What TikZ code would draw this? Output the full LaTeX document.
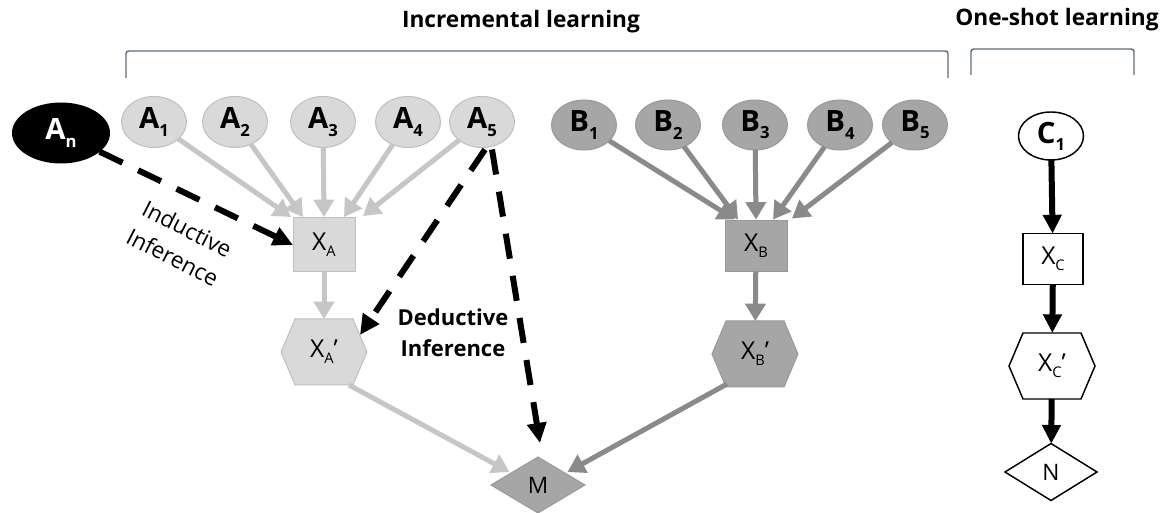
\documentclass[tikz,border=0pt]{standalone}
\usepackage{fontspec}
\setmainfont{Open Sans}
\usetikzlibrary{arrows.meta,shapes.geometric,calc,backgrounds}

\definecolor{afill}{HTML}{D9D9D9}
\definecolor{aline}{HTML}{BFBFBF}
\definecolor{aarrow}{HTML}{C6C6C6}
\definecolor{bfill}{HTML}{A6A6A6}
\definecolor{bline}{HTML}{999999}
\definecolor{barrow}{HTML}{8A8A8A}
\definecolor{brack}{HTML}{5F6E7A}

% lowered small index after a letter
\newcommand\lsub[1]{\raisebox{-0.45ex}{\fontsize{12.5}{12.5}\selectfont #1}}
\newcommand\xsub[1]{\raisebox{-0.45ex}{\fontsize{11}{11}\selectfont #1}}

% flat-topped hexagon drawn over the box of a named node
\newcommand\hexdraw[2]{%
  \draw[#2] (#1.west) -- ($(#1.north west)+(14,0)$) -- ($(#1.north east)+(-14,0)$)
    -- (#1.east) -- ($(#1.south east)+(-14,0)$) -- ($(#1.south west)+(14,0)$) -- cycle;}

\begin{document}
\begin{tikzpicture}[x=0.75pt,y=-0.75pt,
  every node/.style={inner sep=0pt,outer sep=0pt},
  lblbold/.style={font=\fontsize{22}{22}\selectfont\bfseries},
  lblx/.style={font=\fontsize{18.5}{19}\selectfont},
  anode/.style={ellipse,draw=aline,fill=afill,line width=0.75pt,
    minimum width=48.75pt,minimum height=38.25pt,lblbold},
  bnode/.style={ellipse,draw=bline,fill=bfill,line width=0.75pt,
    minimum width=48.75pt,minimum height=37.5pt,lblbold},
  abox/.style={rectangle,draw=aline,fill=afill,line width=0.75pt,
    minimum width=46.5pt,minimum height=40.5pt,lblx},
  bbox/.style={rectangle,draw=bline,fill=bfill,line width=0.75pt,
    minimum width=46.5pt,minimum height=38.25pt,lblx},
  cbox/.style={rectangle,draw=black,fill=white,line width=1.1pt,
    minimum width=45pt,minimum height=38.25pt,lblx},
  hexbox/.style={rectangle,minimum width=64.5pt,minimum height=49.5pt,lblx},
  title/.style={font=\fontsize{17}{19}\selectfont\bfseries},
  aarr/.style={draw=aarrow,line width=3.75pt,-{Triangle[length=13pt,width=15pt]}},
  barr/.style={draw=barrow,line width=3.75pt,-{Triangle[length=13pt,width=15pt]}},
  karr/.style={draw=black,line width=4.5pt,-{Triangle[length=14pt,width=13.5pt]}},
  darr/.style={draw=black,line width=4.5pt,dash pattern=on 19pt off 13pt,
    -{Triangle[length=15pt,width=14pt]}},
  bracket/.style={draw=brack,line width=1.1pt,rounded corners=2pt}]

\useasboundingbox (0,0) rectangle (1172,513);

% titles and brackets
\node[title] (tinc) at (521,22) {Incremental learning};
\node[title] (tone) at (1057,20) {One-shot learning};
\draw[bracket] (126,78) -- (126,51) -- (948,51) -- (948,78);
\draw[bracket] (971,75) -- (971,49) -- (1134,49) -- (1134,75);

% first incremental branch
\node[ellipse,fill=black,minimum width=73.5pt,minimum height=45.75pt,
  lblbold,text=white] (An) at (61,133) {A\lsub{n}};
\node[anode] (A1) at (154,122) {A\lsub{1}};
\node[anode] (A2) at (235,122) {A\lsub{2}};
\node[anode] (A3) at (323,122) {A\lsub{3}};
\node[anode] (A4) at (408,122) {A\lsub{4}};
\node[anode] (A5) at (482,122) {A\lsub{5}};
\node[abox] (XA) at (324,245) {X\xsub{A}};
\node[hexbox] (XAp) at (324,352) {X\xsub{A}'};

% second incremental branch
\node[bnode] (B1) at (584,125) {B\lsub{1}};
\node[bnode] (B2) at (668,125) {B\lsub{2}};
\node[bnode] (B3) at (755,125) {B\lsub{3}};
\node[bnode] (B4) at (840,125) {B\lsub{4}};
\node[bnode] (B5) at (915,125) {B\lsub{5}};
\node[bbox] (XB) at (756,246) {X\xsub{B}};
\node[hexbox] (XBp) at (755,354) {X\xsub{B}'};

% merge node
\node[diamond,draw=bline,fill=bfill,line width=0.75pt,minimum width=70.5pt,
  minimum height=42pt,font=\fontsize{17}{17}\selectfont] (M) at (538,485) {M};

% one-shot branch
\node[ellipse,draw=black,fill=white,line width=1.1pt,minimum width=48.75pt,
  minimum height=36pt,lblbold] (C1) at (1051,136) {C\lsub{1}};
\node[cbox] (XC) at (1053,259) {X\xsub{C}};
\node[hexbox] (XCp) at (1052,366) {X\xsub{C}'};
\node[diamond,draw=black,fill=white,line width=1.1pt,minimum width=69pt,
  minimum height=42.75pt,font=\fontsize{17}{17}\selectfont] (N) at (1051,472) {N};

\begin{scope}[on background layer]
  \fill[white] (0,0) rectangle (1172,513);
  \hexdraw{XAp}{draw=aline,fill=afill,line width=0.75pt}
  \hexdraw{XBp}{draw=bline,fill=bfill,line width=0.75pt}
  \hexdraw{XCp}{draw=black,fill=white,line width=1.1pt}
\end{scope}

% inference labels
\node[font=\fontsize{17}{24}\selectfont,align=center,rotate=-27] (ind) at (180,243) {Inductive\\Inference};
\node[font=\fontsize{16.5}{23}\selectfont\bfseries,align=center] (ded) at (453,333) {Deductive\\Inference};

% connectors, first branch
\draw[aarr] (A1) -- ($(XA.north)+(-33,-1)$);
\draw[aarr] (A2) -- ($(XA.north)+(-21,-1)$);
\draw[aarr] (A3) -- ($(XA.north)+(0,-1)$);
\draw[aarr] (A4) -- ($(XA.north)+(20,-1)$);
\draw[aarr] (A5) -- ($(XA.north)+(39,-2)$);
\draw[aarr] (XA) -- (XAp);
\draw[aarr] ($(XAp.south)+(25,0)$) -- ($(M.north west)+(-5,1)$);

% connectors, second branch
\draw[barr] (B1) -- ($(XB.north)+(-21,-1)$);
\draw[barr] (B2) -- ($(XB.north)+(-18,-1)$);
\draw[barr] (B3) -- ($(XB.north)+(0,-1)$);
\draw[barr] (B4) -- ($(XB.north)+(17,-1)$);
\draw[barr] (B5) -- ($(XB.north)+(36,-2)$);
\draw[barr] (XB) -- (XBp);
\draw[barr] ($(XBp.south)+(-28,-3)$) -- ($(M.north east)+(6,1)$);

% inference connectors
\draw[darr] (An) -- (XA.west);
\draw[darr] ($(A5.south)+(3,2)$) -- ($(XAp.east)+(-7,-17)$);
\draw[darr] ($(A5.south)+(10,2)$) -- ($(M.north)+(2,-14)$);

% connectors, one-shot branch
\draw[karr] (C1) -- (XC);
\draw[karr] (XC) -- (XCp);
\draw[karr] (XCp) -- (N);

\end{tikzpicture}
\end{document}
